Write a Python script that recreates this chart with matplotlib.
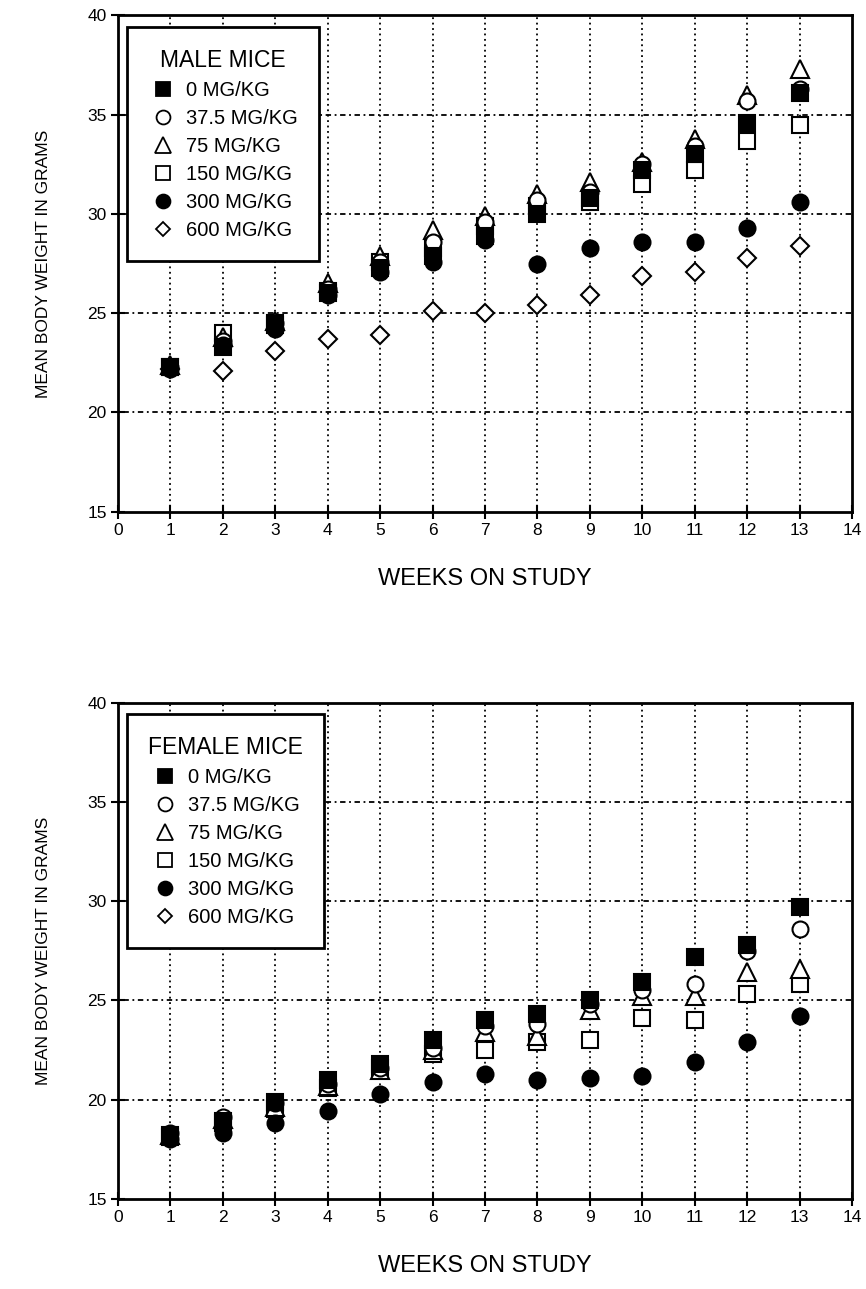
import matplotlib
matplotlib.use('agg')

import matplotlib.pyplot as plt
from matplotlib.lines import Line2D

plt.rcParams['font.family'] = ['Liberation Sans', 'DejaVu Sans']

weeks = [1, 2, 3, 4, 5, 6, 7, 8, 9, 10, 11, 12, 13]
dose_labels = ['0 MG/KG', '37.5 MG/KG', '75 MG/KG', '150 MG/KG', '300 MG/KG', '600 MG/KG']

# male mice, mean body weight (g)
male_0 = [22.3, 23.3, 24.4, 26.0, 27.3, 27.9, 28.9, 30.0, 30.8, 32.2, 33.0, 34.6, 36.1]
male_37 = [22.3, 23.6, 24.5, 26.2, 27.6, 28.6, 29.6, 30.7, 31.1, 32.5, 33.4, 35.7, 36.3]
male_75 = [22.4, 23.8, 24.6, 26.5, 27.9, 29.2, 29.9, 31.0, 31.6, 32.6, 33.8, 36.0, 37.3]
male_150 = [22.3, 24.0, 24.5, 26.1, 27.6, 28.3, 29.4, 30.4, 30.6, 31.5, 32.2, 33.7, 34.5]
male_300 = [22.2, 23.4, 24.2, 25.9, 27.1, 27.6, 28.7, 27.5, 28.3, 28.6, 28.6, 29.3, 30.6]
male_600 = [22.2, 22.1, 23.1, 23.7, 23.9, 25.1, 25.0, 25.4, 25.9, 26.9, 27.1, 27.8, 28.4]

# female mice (no 600 mg/kg points plotted)
female_0 = [18.2, 18.9, 19.9, 21.0, 21.8, 23.0, 24.0, 24.3, 25.0, 25.9, 27.2, 27.8, 29.7]
female_37 = [18.3, 19.1, 19.8, 20.8, 21.6, 22.6, 23.7, 23.8, 24.8, 25.5, 25.8, 27.5, 28.6]
female_75 = [18.2, 19.0, 19.6, 20.7, 21.5, 22.5, 23.4, 23.2, 24.5, 25.2, 25.2, 26.4, 26.6]
female_150 = [18.1, 18.8, 19.5, 20.6, 21.6, 22.3, 22.5, 22.9, 23.0, 24.1, 24.0, 25.3, 25.8]
female_300 = [18.0, 18.3, 18.8, 19.4, 20.3, 20.9, 21.3, 21.0, 21.1, 21.2, 21.9, 22.9, 24.2]
female_600 = []

# marker, filled?, size
styles = [('s', True, 12), ('o', False, 11.5), ('^', False, 12.5),
          ('s', False, 12), ('o', True, 11.5), ('D', False, 9)]


def draw_panel(ax, series, title):
    ax.set_xlim(0, 14)
    ax.set_ylim(15, 40)
    ax.set_xticks(range(0, 15))
    ax.set_yticks(range(15, 41, 5))
    ax.tick_params(direction='inout', length=10, width=1.5, labelsize=12.5, pad=3)
    for s in ax.spines.values():
        s.set_linewidth(2)

    for x in range(1, 14):
        ax.axvline(x, color='black', lw=1.3, ls=(0, (1, 2)), zorder=1)
    for y in range(20, 40, 5):
        ax.axhline(y, color='black', lw=1.3, ls=(0, (1, 2, 3, 2)), zorder=1)

    # open markers first, filled ones on top
    order = [5, 3, 2, 1, 4, 0]
    for i in order:
        vals = series[i]
        if not vals:
            continue
        m, filled, ms = styles[i]
        ax.plot(weeks[:len(vals)], vals, ls='none', marker=m, ms=ms,
                mfc='black' if filled else 'white', mec='black', mew=1.5,
                zorder=3 + (2 if filled else 0))

    handles = []
    for i, lab in enumerate(dose_labels):
        m, filled, ms = styles[i]
        handles.append(Line2D([], [], ls='none', marker=m, ms=ms - 1.5,
                              mfc='black' if filled else 'white', mec='black', mew=1.3,
                              label=lab))
    leg = ax.legend(handles=handles, title=title, loc='upper left',
                    bbox_to_anchor=(0.012, 0.976), fontsize=14.5, title_fontsize=16.5,
                    fancybox=False, framealpha=1, edgecolor='black',
                    handletextpad=0.4, labelspacing=0.45, borderpad=1.05,
                    handlelength=1.5, borderaxespad=0)
    leg.get_frame().set_linewidth(2)
    leg.set_zorder(10)

    ax.set_xlabel('WEEKS ON STUDY', fontsize=17, labelpad=22)
    ax.set_ylabel('MEAN BODY WEIGHT IN GRAMS', fontsize=12.5, labelpad=26)


fig = plt.figure(figsize=(8.66, 12.89), dpi=100)
ax1 = fig.add_axes([0.136, 0.603, 0.848, 0.385])
ax2 = fig.add_axes([0.136, 0.070, 0.848, 0.385])

draw_panel(ax1, [male_0, male_37, male_75, male_150, male_300, male_600], 'MALE MICE')
draw_panel(ax2, [female_0, female_37, female_75, female_150, female_300, female_600], 'FEMALE MICE')

fig.savefig('out.png', dpi=100)
